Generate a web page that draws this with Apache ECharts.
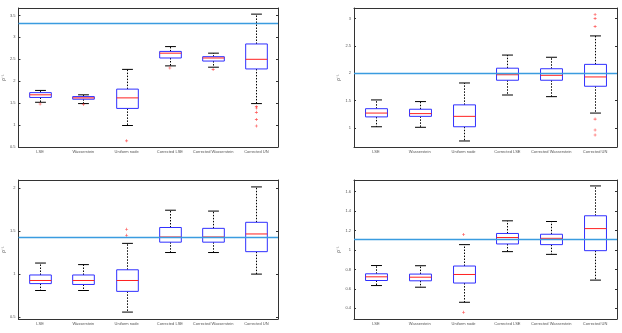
<!DOCTYPE html>
<html><head><meta charset="utf-8">
<script src="https://cdn.jsdelivr.net/npm/echarts@6/dist/echarts.min.js"></script>
<style>html,body{margin:0;padding:0;background:#fff}#c{width:622px;height:333px}</style>
</head><body><div id="c"></div>
<script>
const categories = ['LSE','Wasserstein','Uniform node','Corrected LSE','Corrected Wasserstein','Corrected UN'];

// Panel A (top-left)
const aLow  = [1.52, 1.49, 0.99, 2.35, 2.32, 1.49];
const aQ1   = [1.63, 1.59, 1.38, 2.53, 2.46, 2.28];
const aMed  = [1.69, 1.62, 1.62, 2.64, 2.53, 2.50];
const aQ3   = [1.74, 1.65, 1.82, 2.68, 2.56, 2.85];
const aHigh = [1.79, 1.69, 2.27, 2.79, 2.64, 3.53];
const aOut  = [[0,1.48],[1,1.47],[2,0.64],[3,2.30],[4,2.27],[5,1.42],[5,1.39],[5,1.29],[5,1.13],[5,0.98]];
const aRef  = 3.33;
const aTicks = [0.5,1,1.5,2,2.5,3,3.5];

// Panel B (top-right)
const bLow  = [1.02, 1.01, 0.76, 1.60, 1.57, 1.27];
const bQ1   = [1.20, 1.21, 1.02, 1.87, 1.87, 1.76];
const bMed  = [1.27, 1.26, 1.21, 1.97, 1.96, 1.93];
const bQ3   = [1.35, 1.34, 1.42, 2.09, 2.08, 2.16];
const bHigh = [1.51, 1.48, 1.82, 2.33, 2.29, 2.68];
const bOut  = [[5,3.07],[5,3.00],[5,2.85],[5,1.16],[5,0.96],[5,0.87]];
const bRef  = 2.0;
const bTicks = [1,1.5,2,2.5,3];

// Panel C (bottom-left)
const cLow  = [0.81, 0.81, 0.56, 1.25, 1.25, 1.00];
const cQ1   = [0.89, 0.88, 0.80, 1.37, 1.37, 1.26];
const cMed  = [0.926, 0.926, 0.926, 1.43, 1.43, 1.465];
const cQ3   = [0.99, 0.99, 1.05, 1.54, 1.53, 1.60];
const cHigh = [1.128, 1.11, 1.356, 1.74, 1.73, 2.01];
const cOut  = [[2,1.52],[2,1.45]];
const cRef  = 1.43;
const cTicks = [0.5,1,1.5,2];

// Panel D (bottom-right)
const dLow  = [0.634, 0.617, 0.462, 0.983, 0.955, 0.69];
const dQ1   = [0.686, 0.683, 0.66, 1.062, 1.055, 0.993];
const dMed  = [0.724, 0.72, 0.748, 1.128, 1.12, 1.22];
const dQ3   = [0.755, 0.752, 0.835, 1.17, 1.162, 1.352];
const dHigh = [0.84, 0.838, 1.055, 1.30, 1.293, 1.659];
const dOut  = [[2,1.16],[2,0.36]];
const dRef  = 1.114;
const dTicks = [0.4,0.6,0.8,1,1.2,1.4,1.6];

const panels = [
  {lo:aLow,q1:aQ1,md:aMed,q3:aQ3,hi:aHigh,out:aOut,ref:aRef,ticks:aTicks,min:0.5,max:3.67,left:14,top:8,width:264,height:139},
  {lo:bLow,q1:bQ1,md:bMed,q3:bQ3,hi:bHigh,out:bOut,ref:bRef,ticks:bTicks,min:0.65,max:3.19,left:354,top:8,width:263,height:139},
  {lo:cLow,q1:cQ1,md:cMed,q3:cQ3,hi:cHigh,out:cOut,ref:cRef,ticks:cTicks,min:0.48,max:2.09,left:14,top:180,width:264,height:139},
  {lo:dLow,q1:dQ1,md:dMed,q3:dQ3,hi:dHigh,out:dOut,ref:dRef,ticks:dTicks,min:0.29,max:1.72,left:354,top:180,width:263,height:139}
];

const axisColor = '#333';
const labelStyle = {fontSize:4, color:'#555', fontFamily:'Liberation Sans'};
const grid=[], xAxis=[], yAxis=[], series=[];
panels.forEach((p,k)=>{
  grid.push({left:p.left, top:p.top, width:p.width, height:p.height, show:false});
  xAxis.push({type:'category', gridIndex:k, data:categories, position:'bottom',
    axisLine:{lineStyle:{color:axisColor,width:1}},
    axisTick:{inside:true, alignWithLabel:true, length:2, lineStyle:{color:axisColor}},
    axisLabel:Object.assign({margin:3, interval:0}, labelStyle)});
  xAxis.push({type:'category', gridIndex:k, data:categories, position:'top',
    axisLine:{lineStyle:{color:axisColor,width:1}},
    axisTick:{inside:true, alignWithLabel:true, length:2, lineStyle:{color:axisColor}},
    axisLabel:{show:false}});
  yAxis.push({type:'value', gridIndex:k, min:p.min, max:p.max, position:'left',
    name:'ρ⁻¹', nameLocation:'middle', nameGap:10, nameRotate:90,
    nameTextStyle:{fontSize:5, color:'#666', fontFamily:'Liberation Sans'},
    splitLine:{show:false},
    axisLine:{show:true, lineStyle:{color:axisColor,width:1}},
    axisTick:{show:true, inside:true, length:2, customValues:p.ticks, lineStyle:{color:axisColor}},
    axisLabel:Object.assign({margin:3, customValues:p.ticks, showMinLabel:true, showMaxLabel:true}, labelStyle)});
  yAxis.push({type:'value', gridIndex:k, min:p.min, max:p.max, position:'right',
    splitLine:{show:false},
    axisLine:{show:true, lineStyle:{color:axisColor,width:1}},
    axisTick:{show:true, inside:true, length:2, customValues:p.ticks, lineStyle:{color:axisColor}},
    axisLabel:{show:false}});
  const data = categories.map((c,i)=>[i, p.lo[i], p.q1[i], p.md[i], p.q3[i], p.hi[i]]);
  series.push({type:'custom', xAxisIndex:2*k, yAxisIndex:2*k, data:data, silent:true,
    encode:{x:0, y:[1,2,3,4,5]},
    renderItem:function(params, api){
      const i = api.value(0);
      const band = api.size([1,0])[0];
      const bw = band*0.5, cw = band*0.25;
      const pLo = api.coord([i, api.value(1)]);
      const pQ1 = api.coord([i, api.value(2)]);
      const pMd = api.coord([i, api.value(3)]);
      const pQ3 = api.coord([i, api.value(4)]);
      const pHi = api.coord([i, api.value(5)]);
      const x = Math.round(pMd[0])+0.5;
      const dash = {stroke:'#000', lineWidth:1, lineDash:[1.5,1.5]};
      const solid = {stroke:'#000', lineWidth:1};
      return {type:'group', children:[
        {type:'line', shape:{x1:x,y1:pQ3[1],x2:x,y2:pHi[1]}, style:dash},
        {type:'line', shape:{x1:x,y1:pQ1[1],x2:x,y2:pLo[1]}, style:dash},
        {type:'line', shape:{x1:x-cw/2,y1:pHi[1],x2:x+cw/2,y2:pHi[1]}, style:solid},
        {type:'line', shape:{x1:x-cw/2,y1:pLo[1],x2:x+cw/2,y2:pLo[1]}, style:solid},
        {type:'rect', shape:{x:x-bw/2, y:pQ3[1], width:bw, height:pQ1[1]-pQ3[1]}, style:{fill:'#fff', stroke:'#3030ff', lineWidth:1}},
        {type:'line', shape:{x1:x-bw/2,y1:pMd[1],x2:x+bw/2,y2:pMd[1]}, style:{stroke:'#ff2020', lineWidth:1}}
      ]};
    },
    z:2
  });
  series.push({type:'scatter', xAxisIndex:2*k, yAxisIndex:2*k, data:p.out, silent:true,
    symbol:'path://M4,0H6V4H10V6H6V10H4V6H0V4H4Z', symbolSize:3,
    itemStyle:{color:'#ff2020'}, z:3,
    markLine:{silent:true, symbol:['none','none'], label:{show:false},
      lineStyle:{color:'#3a9ce0', width:1.3, type:'solid', opacity:1},
      emphasis:{disabled:true},
      data:[{yAxis:p.ref, lineStyle:{color:'#3a9ce0'}}]}
  });
});

const chart = echarts.init(document.getElementById('c'), null, {renderer:'canvas'});
chart.setOption({animation:false, backgroundColor:'#fff', grid, xAxis, yAxis, series});
</script></body></html>
